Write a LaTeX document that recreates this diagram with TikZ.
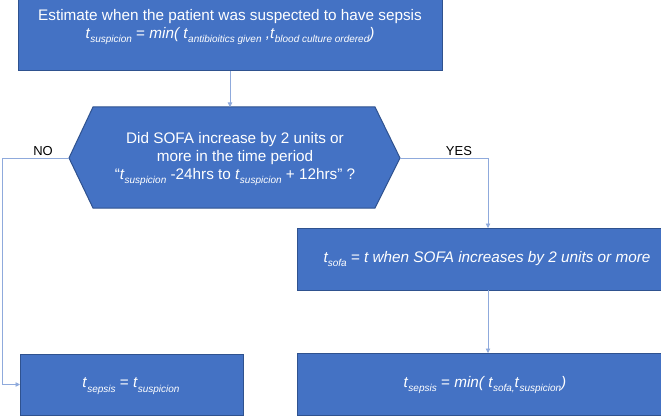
\documentclass[tikz,border=0pt]{standalone}
\usepackage{fontspec}
\setmainfont{Liberation Sans}
\usetikzlibrary{arrows.meta}
\definecolor{boxblue}{HTML}{4472C4}
\definecolor{boxedge}{HTML}{2F528F}
\definecolor{linkblue}{HTML}{8FAADC}
\newcommand\mysub[1]{\raisebox{-0.3em}{\fontsize{10}{10}\selectfont\itshape #1}}
\begin{document}
\begin{tikzpicture}[x=1pt,y=-1pt,
  box/.style={draw=boxedge, line width=1pt, fill=boxblue, inner sep=0pt, outer sep=0pt},
  txt/.style={text=white, align=center, inner sep=0pt, font=\fontsize{15.3}{18}\selectfont},
  link/.style={draw=linkblue, line width=0.8pt, -{Triangle[length=4.5pt,width=4.5pt]}},
  lbl/.style={font=\fontsize{13}{15}\selectfont, inner sep=0pt}]
\useasboundingbox (0,0) rectangle (661,417);
% top box
\node[box, minimum width=424pt, minimum height=71pt] (top) at (230,35.5) {};
\node[txt] (toptext) at (230,27) {Estimate when the patient was suspected to have sepsis\\
  \textit{t}\mysub{suspicion} = \textit{min( t}\mysub{antibioitics given} \textit{,t}\mysub{blood culture ordered}\textit{)}};
% hexagon
\coordinate (hT) at (230,107);
\coordinate (hW) at (69,158);
\coordinate (hE) at (400,158);
\filldraw[fill=boxblue, draw=boxedge, line width=1pt]
  (93,107) -- (375,107) -- (hE) -- (375,208) -- (93,208) -- (hW) -- cycle;
\node[txt] (hex) at (235,159) {Did SOFA increase by 2 units or\\more in the time period\\
  “\textit{t}\mysub{suspicion} -24hrs to \textit{t}\mysub{suspicion} + 12hrs” ?};
% sofa box
\node[box, minimum width=364pt, minimum height=62pt] (sofa) at (479,259) {};
\node[txt] (sofatext) at (487,259) {\itshape t\mysub{sofa} = t when SOFA increases by 2 units or more};
% bottom boxes
\node[box, minimum width=223pt, minimum height=61pt] (bl) at (131.5,384.5) {};
\node[txt] (bltext) at (131,386) {\textit{t}\mysub{sepsis} = \textit{t}\mysub{suspicion}};
\node[box, minimum width=364pt, minimum height=62pt] (br) at (479,384) {};
\node[txt] (brtext) at (485,385) {\textit{t}\mysub{sepsis} = \textit{min( t}\mysub{sofa,}\textit{t}\mysub{suspicion}\textit{)}};
% labels
\node[lbl] (no) at (43,151) {NO};
\node[lbl] (yes) at (459,151) {YES};
% connectors
\coordinate (noX) at (2,158);
\coordinate (yesX) at (488,0);
\draw[link] (top.south) -- (hT);
\draw[link] (hW) -- (noX) |- (bl.west);
\draw[link] (hE) -| (yesX |- sofa.north);
\draw[link] (yesX |- sofa.south) -- (yesX |- br.north);
\end{tikzpicture}
\end{document}
